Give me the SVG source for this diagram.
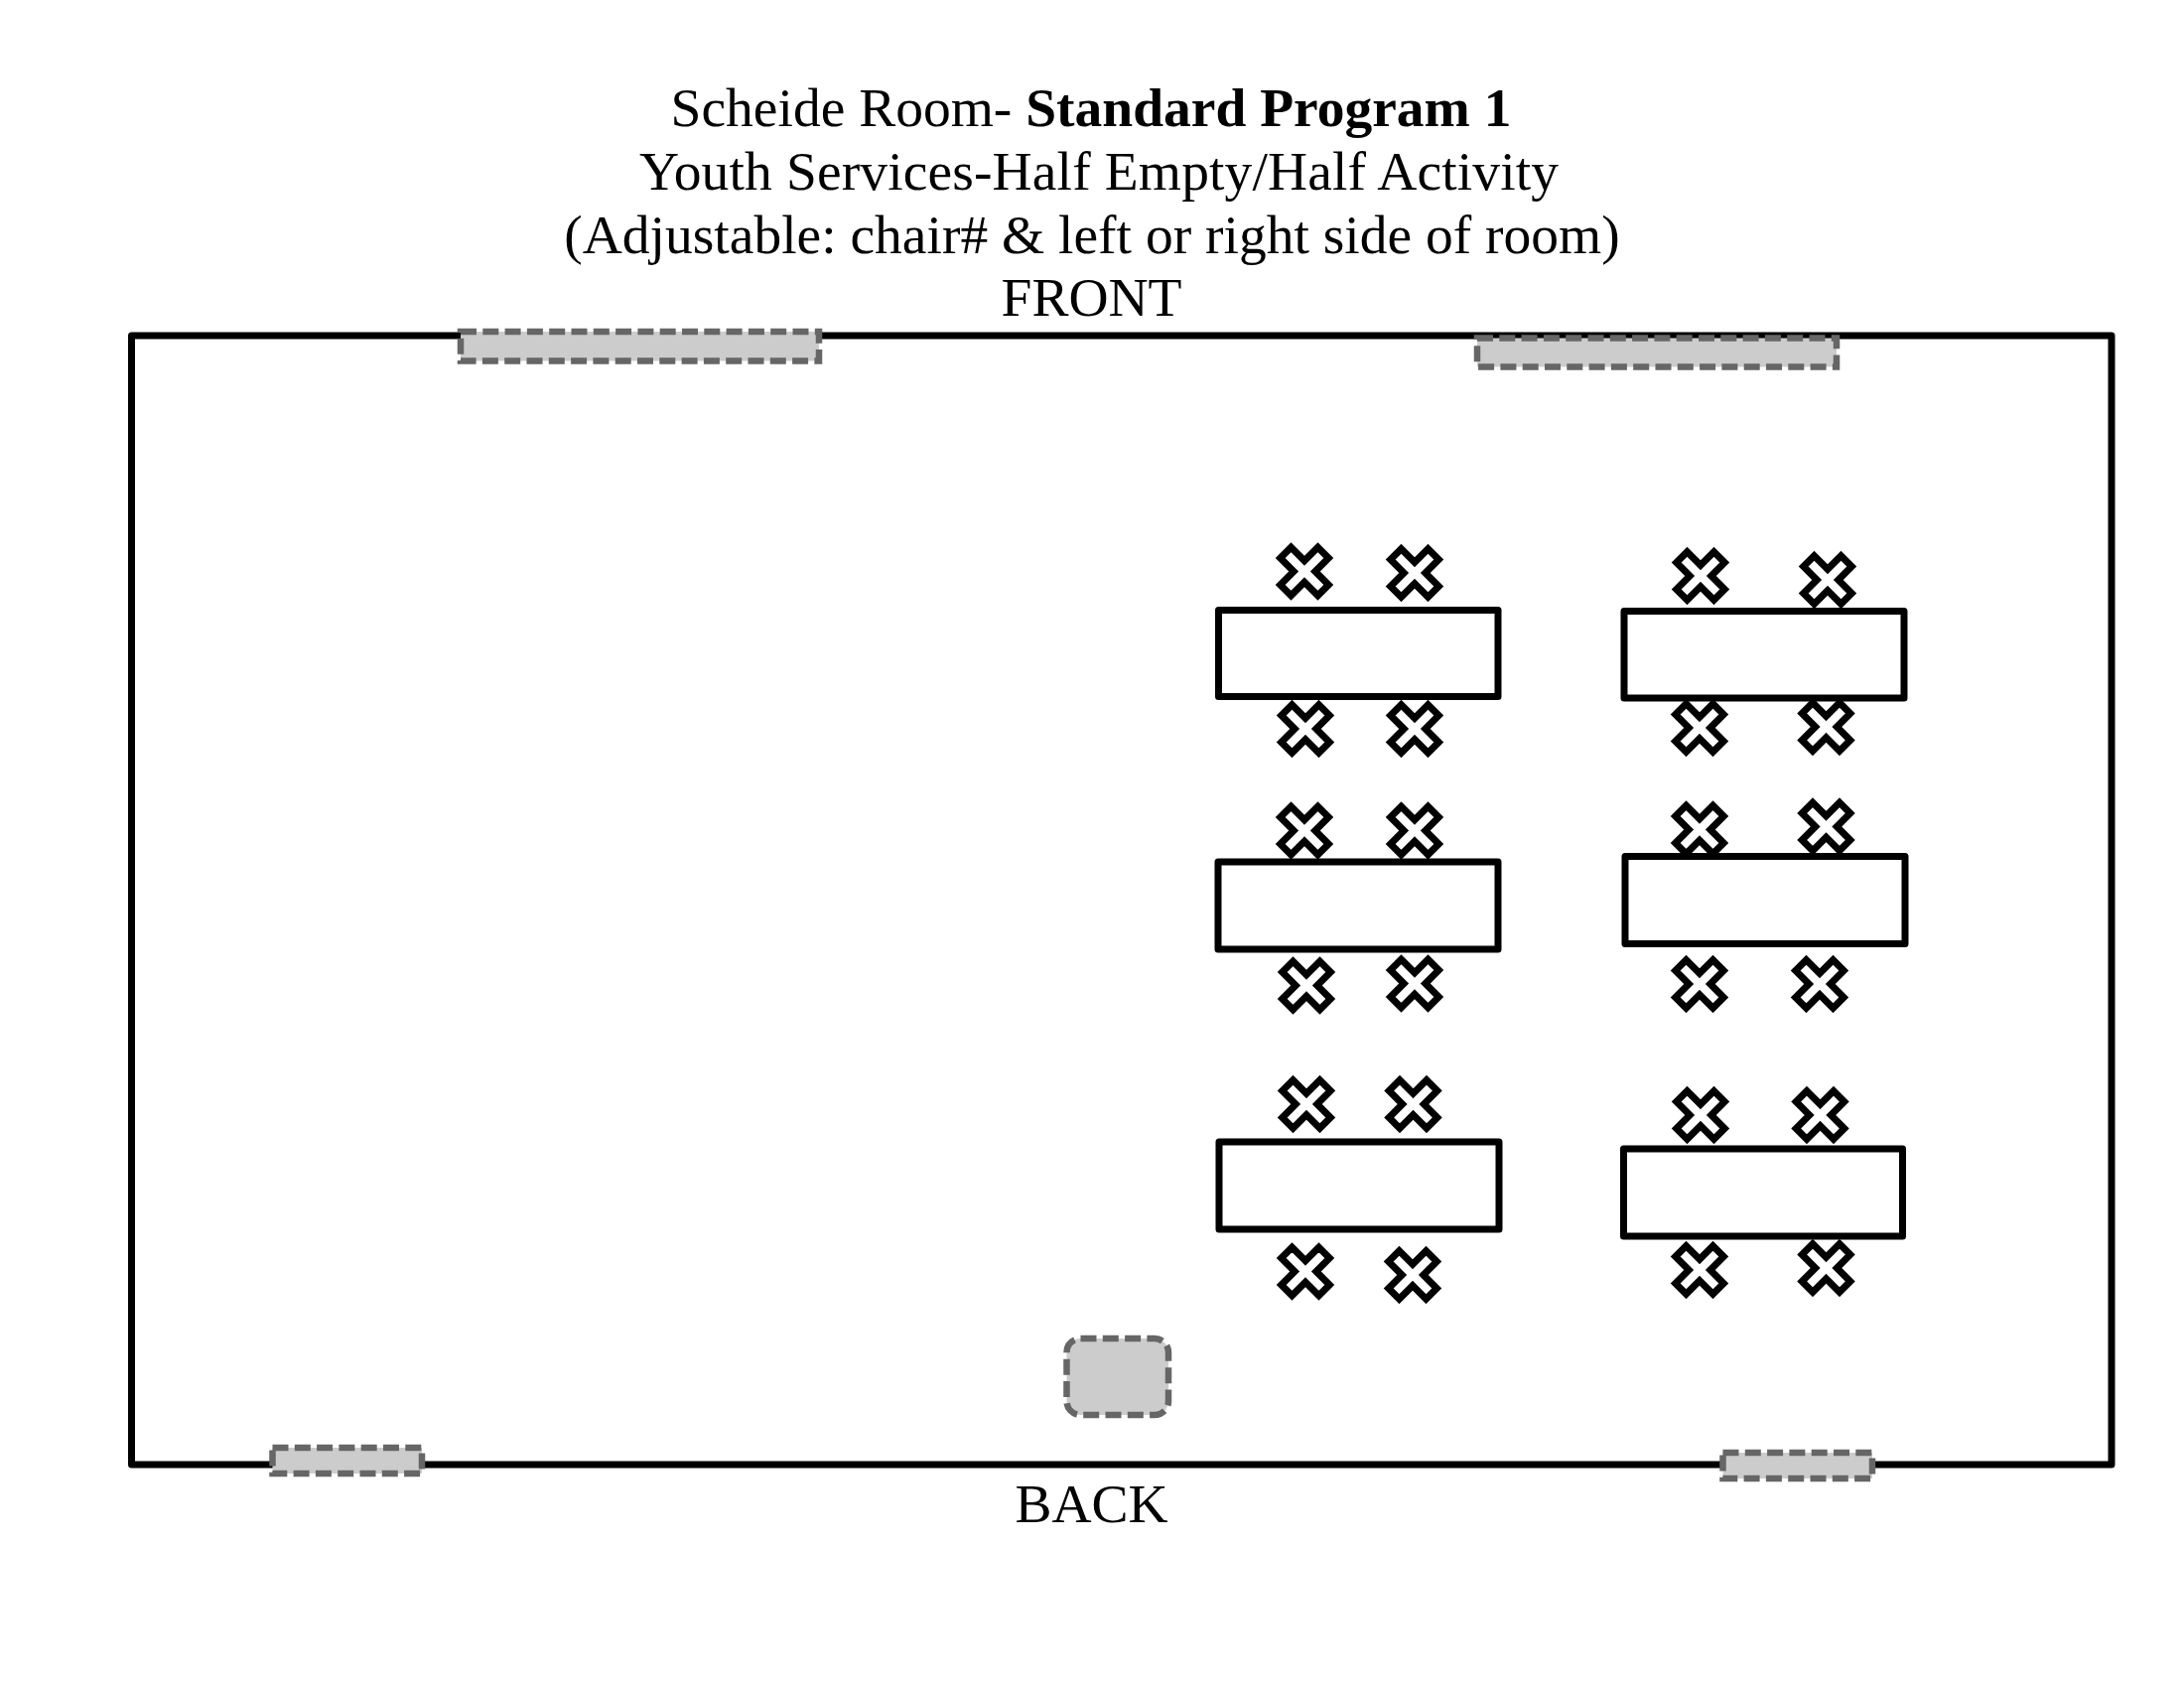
<svg xmlns="http://www.w3.org/2000/svg" width="2200" height="1700" viewBox="0 0 2200 1700">
<style>
text{font-family:"Liberation Serif","Times New Roman",serif;font-size:55.500px;fill:#000;text-anchor:middle}
.b{font-weight:700}
.room{fill:#fff;stroke:#000;stroke-width:7;stroke-linejoin:round}
.table{fill:#fff;stroke:#000;stroke-width:7;stroke-linejoin:round}
.chair{fill:#fff;stroke:#000;stroke-width:7;stroke-linejoin:miter}
.dash{fill:#ccc;stroke:#666;stroke-width:6.500;stroke-dasharray:16 6.300}
</style>
<defs><path id="x" d="M0,-10.800L13.500,-24.300L24.300,-13.500L10.800,0L24.300,13.500L13.500,24.300L0,10.800L-13.500,24.300L-24.300,13.500L-10.800,0L-24.300,-13.500L-13.500,-24.300Z"/></defs>
<rect width="2200" height="1700" fill="#fff"/>
<g id="title">
<text x="1099" y="126.500">Scheide Room- <tspan class="b">Standard Program 1</tspan></text>
<text x="1107" y="191" textLength="926" lengthAdjust="spacing">Youth Services-Half Empty/Half Activity</text>
<text x="1100" y="255">(Adjustable: chair# &amp; left or right side of room)</text>
<text x="1099.500" y="318">FRONT</text>
</g>
<rect id="room" class="room" x="132.500" y="338" width="1994.500" height="1137"/>
<text id="back" x="1099.500" y="1533">BACK</text>
<g id="windows">
<rect class="dash" x="464" y="334" width="361" height="29.500"/>
<rect class="dash" x="1488" y="340.500" width="362" height="29"/>
<rect class="dash" x="274.500" y="1458" width="150.500" height="26"/>
<rect class="dash" x="1735.500" y="1463" width="150.500" height="26"/>
<rect class="dash" x="1074.500" y="1348" width="102.500" height="77" rx="14"/>
</g>
<g id="group1">
<use href="#x" class="chair" x="1314" y="575.500"/><use href="#x" class="chair" x="1425" y="577"/><use href="#x" class="chair" x="1315" y="734"/><use href="#x" class="chair" x="1425" y="734"/>
<rect class="table" x="1227.500" y="614.500" width="281.500" height="87"/>
</g>
<g id="group2">
<use href="#x" class="chair" x="1713" y="580"/><use href="#x" class="chair" x="1841" y="584"/><use href="#x" class="chair" x="1712" y="733"/><use href="#x" class="chair" x="1839.500" y="732"/>
<rect class="table" x="1636" y="615.500" width="282" height="87.500"/>
</g>
<g id="group3">
<use href="#x" class="chair" x="1314" y="836.500"/><use href="#x" class="chair" x="1425" y="836.500"/><use href="#x" class="chair" x="1316" y="992.500"/><use href="#x" class="chair" x="1425" y="990.500"/>
<rect class="table" x="1227" y="868" width="282" height="88"/>
</g>
<g id="group4">
<use href="#x" class="chair" x="1712" y="835.500"/><use href="#x" class="chair" x="1839.500" y="832.500"/><use href="#x" class="chair" x="1712" y="991"/><use href="#x" class="chair" x="1833" y="991"/>
<rect class="table" x="1637" y="862.500" width="282" height="88"/>
</g>
<g id="group5">
<use href="#x" class="chair" x="1316" y="1112"/><use href="#x" class="chair" x="1423.500" y="1112"/><use href="#x" class="chair" x="1315" y="1280.500"/><use href="#x" class="chair" x="1423" y="1284"/>
<rect class="table" x="1228" y="1150" width="282" height="88"/>
</g>
<g id="group6">
<use href="#x" class="chair" x="1713" y="1123"/><use href="#x" class="chair" x="1833.500" y="1123"/><use href="#x" class="chair" x="1712" y="1279"/><use href="#x" class="chair" x="1839.500" y="1277"/>
<rect class="table" x="1635.500" y="1157" width="281" height="88"/>
</g>
</svg>
